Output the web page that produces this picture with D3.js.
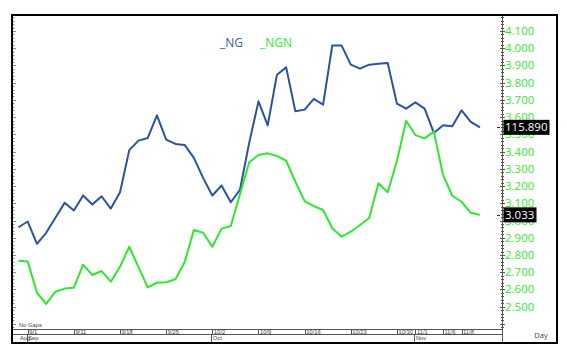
<!DOCTYPE html>
<html lang="en">
<head>
<meta charset="UTF-8">
<title>NG / NGN</title>
<style>
  body { margin: 0; background: #fff; }
  .line { fill: none; stroke-width: 2; stroke-linejoin: round; }
  .tick-label { font-family: "Open Sans", sans-serif; font-size: 11.5px; fill: #36e636; }
  .day-label { font-family: "Liberation Sans", Arial, sans-serif; font-size: 5.8px; fill: #444; }
  .legend-label { font-family: "Open Sans", sans-serif; font-size: 12px; }
</style>
</head>
<body>
<svg width="567" height="354"></svg>
<script src="https://d3js.org/d3.v7.min.js"></script>
<script>
// trading days, 2017
const dates = ["8/31","9/1","9/5","9/6","9/7","9/8","9/11","9/12","9/13","9/14","9/15",
  "9/18","9/19","9/20","9/21","9/22","9/25","9/26","9/27","9/28","9/29",
  "10/2","10/3","10/4","10/5","10/6","10/9","10/10","10/11","10/12","10/13",
  "10/16","10/17","10/18","10/19","10/20","10/23","10/24","10/25","10/26","10/27",
  "10/30","10/31","11/1","11/2","11/3","11/6","11/7","11/8","11/9","11/10"];

const ngValues = [90.89, 92.32, 86.74, 89.49, 93.24, 96.99, 95.07, 98.82, 96.57, 98.64, 95.57,
  99.64, 110.19, 112.57, 113.24, 118.89, 112.82, 111.74, 111.49, 108.24, 103.24,
  98.82, 101.32, 97.14, 100.32, 112.07, 122.39, 116.39, 129.07, 130.89, 119.89,
  120.32, 122.99, 121.57, 136.39, 136.39, 131.57, 130.57, 131.57, 131.82, 131.99,
  121.82, 120.57, 122.14, 120.57, 114.49, 116.39, 116.14, 120.14, 117.24, 115.89];

const ngnValues = [2.767, 2.763, 2.581, 2.516, 2.587, 2.605, 2.610, 2.744, 2.684, 2.707, 2.645,
  2.732, 2.848, 2.730, 2.612, 2.639, 2.642, 2.659, 2.758, 2.945, 2.929,
  2.848, 2.953, 2.968, 3.154, 3.338, 3.380, 3.390, 3.375, 3.347, 3.225,
  3.113, 3.084, 3.061, 2.955, 2.906, 2.935, 2.974, 3.015, 3.216, 3.164,
  3.346, 3.579, 3.496, 3.477, 3.516, 3.264, 3.144, 3.109, 3.045, 3.033];

const priceTicks = [2.5, 2.6, 2.7, 2.8, 2.9, 3.0, 3.1, 3.2, 3.3, 3.4, 3.5, 3.6, 3.7, 3.8, 3.9, 4.0, 4.1];
const dayTicks = ["9/1","9/11","9/18","9/25","10/2","10/9","10/16","10/23","10/30","11/1","11/6","11/8"];
const monthTicks = [["Aug","8/31"], ["Sep","9/1"], ["Oct","10/2"], ["Nov","11/1"]];

const blue = "#2b529c", green = "#2ee82e";
const frame = {left: 12, top: 15, right: 557, bottom: 343};
const axisX = 502, dateTop = 329, dateMid = 334.5;

const svg = d3.select("svg");

const x = d3.scalePoint().domain(dates).range([18.5, 480]);
const yNGN = d3.scaleLinear().domain([2.5, 4.1]).range([306.7, 31]);
const yNG = d3.scaleLinear().domain([71, 140]).range([306.7, 31]);

const isMajor = d => Math.abs(Math.round(d * 10) - d * 10) < 0.01;

// plot clip
svg.append("clipPath").attr("id", "plot")
  .append("rect").attr("x", frame.left).attr("y", frame.top)
  .attr("width", axisX - frame.left).attr("height", dateTop - frame.top);

// left minor/major ticks
const minor = d3.range(2.38, 4.2, 0.02);
svg.append("g").attr("stroke", "#888")
  .selectAll("line").data(minor.filter(d => yNGN(d) < dateTop && yNGN(d) > frame.top)).join("line")
  .attr("x1", frame.left + 1).attr("x2", d => frame.left + 1 + (isMajor(d) ? 3 : 1.5))
  .attr("y1", d => Math.round(yNGN(d)) + 0.5).attr("y2", d => Math.round(yNGN(d)) + 0.5);

// right axis line + ticks
svg.append("line").attr("x1", axisX + 0.5).attr("x2", axisX + 0.5)
  .attr("y1", frame.top).attr("y2", frame.bottom).attr("stroke", "#555");
svg.append("g").attr("stroke", "#555")
  .selectAll("line").data(minor.filter(d => yNGN(d) < dateTop + 12 && yNGN(d) > frame.top)).join("line")
  .attr("x1", d => axisX - (isMajor(d) ? 2 : 1))
  .attr("x2", d => axisX + 1 + (isMajor(d) ? 2 : 1))
  .attr("y1", d => Math.round(yNGN(d)) + 0.5).attr("y2", d => Math.round(yNGN(d)) + 0.5);

// price labels
svg.append("g").selectAll("text").data(priceTicks).join("text")
  .attr("class", "tick-label")
  .attr("x", axisX + 3).attr("y", d => yNGN(d))
  .attr("dy", "0.35em")
  .text(d => d3.format(".3f")(d));

// lines
const plot = svg.append("g").attr("clip-path", "url(#plot)");
plot.append("path").datum(ngValues).attr("class", "line").attr("stroke", blue)
  .attr("d", d3.line().x((d, i) => x(dates[i])).y(d => yNG(d)));
plot.append("path").datum(ngnValues).attr("class", "line").attr("stroke", green)
  .attr("d", d3.line().x((d, i) => x(dates[i])).y(d => yNGN(d)));

// legend
svg.append("text").attr("class", "legend-label").attr("x", 220).attr("y", 47)
  .attr("fill", "#3b5c9e").text("_NG");
svg.append("text").attr("class", "legend-label").attr("x", 260).attr("y", 47)
  .attr("fill", green).text("_NGN");

// last value boxes
function valueBox(yPos, label, w) {
  svg.append("rect").attr("x", axisX + 1.5).attr("y", yPos - 7.5)
    .attr("width", w).attr("height", 15).attr("fill", "#000");
  svg.append("text").attr("x", axisX + 3).attr("y", yPos).attr("dy", "0.36em")
    .attr("font-family", "Open Sans, sans-serif").attr("font-size", "11.5px")
    .attr("fill", "#fff").text(label);
  svg.append("line").attr("x1", axisX - 5).attr("x2", axisX - 2)
    .attr("y1", Math.round(yPos) + 0.5).attr("y2", Math.round(yPos) + 0.5).attr("stroke", "#333");
}
valueBox(yNG(ngValues[ngValues.length - 1]), d3.format(".3f")(ngValues[ngValues.length - 1]), 46);
valueBox(yNGN(ngnValues[ngnValues.length - 1]), d3.format(".3f")(ngnValues[ngnValues.length - 1]), 33);

// date axis
const dg = svg.append("g").attr("stroke", "#555").attr("stroke-width", 1);
dg.append("line").attr("x1", frame.left).attr("x2", axisX).attr("y1", dateTop + 0.5).attr("y2", dateTop + 0.5);
dg.append("line").attr("x1", frame.left).attr("x2", axisX).attr("y1", dateMid).attr("y2", dateMid);
dg.selectAll(".dt").data(dayTicks).join("line").attr("class", "dt")
  .attr("x1", d => Math.round(x(d)) + 0.5).attr("x2", d => Math.round(x(d)) + 0.5)
  .attr("y1", dateTop).attr("y2", dateMid);
dg.selectAll(".mt").data(monthTicks.slice(1)).join("line").attr("class", "mt")
  .attr("x1", d => Math.round(x(d[1])) - 0.5).attr("x2", d => Math.round(x(d[1])) - 0.5)
  .attr("y1", dateMid).attr("y2", frame.bottom);

svg.append("g").selectAll("text").data(dayTicks).join("text")
  .attr("class", "day-label").attr("x", d => x(d) + 1.5).attr("y", dateTop + 4.8).text(d => d);
svg.append("g").selectAll("text").data(monthTicks).join("text")
  .attr("class", "day-label").attr("x", d => x(d[1]) + (d[0] === "Aug" ? 1.5 : 0.5)).attr("y", dateMid + 5.5).text(d => d[0]);

svg.append("text").attr("class", "day-label").attr("x", 19).attr("y", 326.5)
  .attr("font-size", "6.2px").text("No  Gaps");
svg.append("text").attr("x", 541).attr("y", 337.5).attr("text-anchor", "middle")
  .attr("font-family", "Open Sans, sans-serif").attr("font-size", "7.5px").attr("fill", "#444").text("Day");

// frame
svg.append("rect").attr("x", frame.left).attr("y", frame.top)
  .attr("width", frame.right - frame.left).attr("height", frame.bottom - frame.top)
  .attr("fill", "none").attr("stroke", "#000").attr("stroke-width", 2);
</script>
</body>
</html>
